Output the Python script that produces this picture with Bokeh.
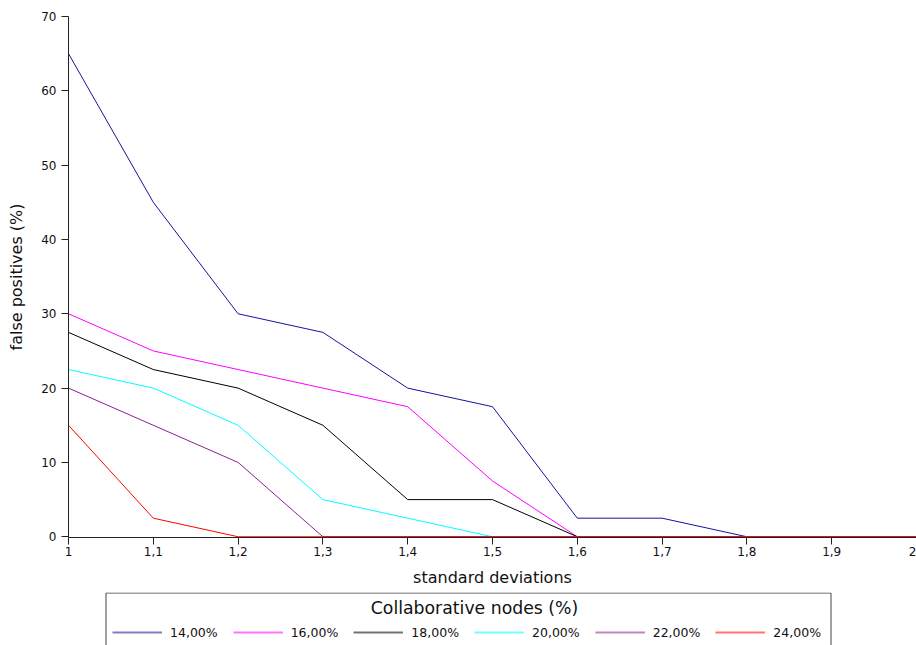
from bokeh.plotting import figure
from bokeh.models import Legend, LegendItem, FixedTicker, Label, BoxAnnotation
from bokeh.layouts import column
from bokeh.embed import file_html
from bokeh.resources import INLINE

std_dev = [1.0, 1.1, 1.2, 1.3, 1.4, 1.5, 1.6, 1.7, 1.8, 1.9, 2.0]
x_tick_labels = ["1", "1,1", "1,2", "1,3", "1,4", "1,5", "1,6", "1,7", "1,8", "1,9", "2"]
y_ticks = [0, 10, 20, 30, 40, 50, 60, 70]

legend_title = "Collaborative nodes (%)"
series_names = ["14,00%", "16,00%", "18,00%", "20,00%", "22,00%", "24,00%"]
fp_14 = [65, 45, 30, 27.5, 20, 17.5, 2.5, 2.5, 0, 0, 0]
fp_16 = [30, 25, 22.5, 20, 17.5, 7.5, 0, 0, 0, 0, 0]
fp_18 = [27.5, 22.5, 20, 15, 5, 5, 0, 0, 0, 0, 0]
fp_20 = [22.5, 20, 15, 5, 2.5, 0, 0, 0, 0, 0, 0]
fp_22 = [20, 15, 10, 0, 0, 0, 0, 0, 0, 0, 0]
fp_24 = [15, 2.5, 0, 0, 0, 0, 0, 0, 0, 0, 0]
series_values = [fp_14, fp_16, fp_18, fp_20, fp_22, fp_24]
colors = ["#14149c", "#ff00ff", "#000000", "#00ffff", "#8a2291", "#ff0000"]

FONT = "DejaVu Sans"

# ---- main chart ----
p = figure(width=916, height=592, output_backend="svg", toolbar_location=None,
           x_range=(1, 2), y_range=(-0.1, 70),
           min_border_left=68, min_border_right=0, min_border_top=16, min_border_bottom=55)
p.outline_line_color = None
p.xgrid.visible = False
p.ygrid.visible = False
p.background_fill_color = "white"

for vals, col in zip(series_values, colors):
    p.line(std_dev, vals, line_color=col, line_width=1)

for ax in (p.xaxis[0], p.yaxis[0]):
    ax.axis_line_color = "#222222"
    ax.major_tick_line_color = "#222222"
    ax.major_tick_out = 7
    ax.major_tick_in = 0
    ax.minor_tick_out = 0
    ax.minor_tick_in = 0
    ax.major_label_text_font = FONT
    ax.major_label_text_font_size = "12px"
    ax.major_label_text_color = "#111111"
    ax.axis_label_text_font = FONT
    ax.axis_label_text_font_size = "16px"
    ax.axis_label_text_font_style = "normal"
    ax.axis_label_text_color = "#111111"

p.xaxis.ticker = FixedTicker(ticks=std_dev)
p.xaxis.major_label_overrides = {t: lab for t, lab in zip(std_dev, x_tick_labels)}
p.xaxis.axis_label = "standard deviations"
p.xaxis.major_label_standoff = 2
p.xaxis.axis_label_standoff = 9

p.yaxis.ticker = FixedTicker(ticks=y_ticks)
p.yaxis.axis_label = "false positives (%)"
p.yaxis.major_label_standoff = 5
p.yaxis.axis_label_standoff = 12

# ---- legend strip (frame is aligned with the main frame: x 68..916 px) ----
pl = figure(width=916, height=53, output_backend="svg", toolbar_location=None,
            x_range=(68, 916), y_range=(0, 53), x_axis_type=None, y_axis_type=None,
            min_border_left=0, min_border_right=0, min_border_top=0, min_border_bottom=0)
pl.outline_line_color = None
pl.grid.visible = False
pl.background_fill_color = "white"

box = BoxAnnotation(left=105.5, right=830.5, top=52.5, bottom=-20,
                    fill_alpha=0, line_color="#444444", line_alpha=1.0, line_width=1)
pl.add_layout(box)

title = Label(x=474, y=38, text=legend_title, text_align="center", text_baseline="middle",
              text_font=FONT, text_font_size="17.3px", text_color="#111111")
pl.add_layout(title)

items = []
for name, vals, col in zip(series_names, series_values, colors):
    # series data lies outside this strip's x range, so only the legend swatch shows
    r = pl.line(std_dev, vals, line_color=col, line_width=2, line_alpha=0.55)
    items.append(LegendItem(label=name, renderers=[r]))

legend = Legend(items=items, orientation="horizontal", location=(44, 5),
                label_text_font=FONT, label_text_font_size="12.5px", label_text_color="#111111",
                glyph_width=50, glyph_height=16, label_height=16, label_standoff=8, spacing=15,
                padding=0, margin=0, border_line_color=None, background_fill_alpha=0)
pl.add_layout(legend, "center")

layout = column(p, pl, spacing=0)
open("out.html", "w").write(file_html(layout, INLINE))
